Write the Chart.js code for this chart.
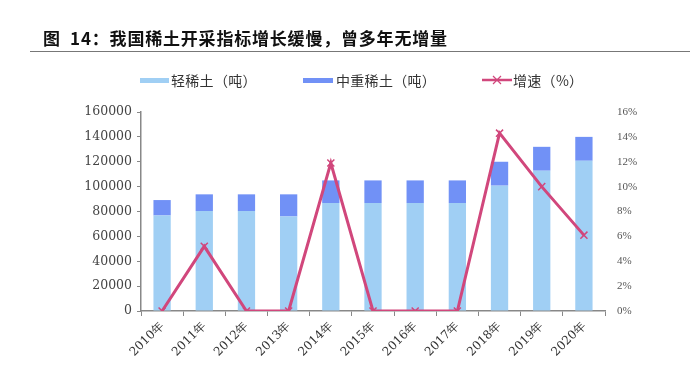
<!DOCTYPE html>
<html>
<head>
<meta charset="utf-8">
<script src="https://cdn.jsdelivr.net/npm/chart.js@4"></script>
<style>
  body { margin: 0; background: #fff; }
  #wrap { position: relative; width: 690px; height: 372px; overflow: hidden; }
  #title {
    position: absolute; left: 43px; top: 27px;
    font: bold 17px "Noto Sans CJK SC", sans-serif; color: #111; white-space: nowrap;
    line-height: 22px; letter-spacing: 0.8px;
  }
  #rule { position: absolute; left: 30px; right: 0; top: 51px; height: 0; border-top: 1.5px solid #777; }
  .leg { position: absolute; top: 70px; font: 14px "Noto Sans CJK SC", sans-serif; color: #333; line-height: 20px; white-space: nowrap; letter-spacing: 0.3px; }
  .box { position: absolute; top: 78px; height: 5px; }
  canvas { position: absolute; left: 0; top: 0; }
</style>
</head>
<body>
<div id="wrap">
  <canvas id="chart" width="690" height="372"></canvas>
  <div id="title">图&nbsp; 14：我国稀土开采指标增长缓慢，曾多年无增量</div>
  <div id="rule"></div>
  <div class="box" style="left:140px;width:29px;background:#a0cff4"></div>
  <div class="leg" style="left:171px">轻稀土（吨）</div>
  <div class="box" style="left:303px;width:30px;background:#7191f6"></div>
  <div class="leg" style="left:336px">中重稀土（吨）</div>
  <div class="leg" style="left:513px">增速（%）</div>
  <canvas id="legline" width="32" height="14" style="left:481px;top:73px"></canvas>
</div>
<script>
const years = ["2010年", "2011年", "2012年", "2013年", "2014年", "2015年", "2016年", "2017年", "2018年", "2019年", "2020年"];
const lightRE = [76800, 80400, 80400, 76000, 86800, 86800, 86800, 86800, 100800, 112800, 120800];
const heavyRE = [12400, 13400, 13400, 17800, 18200, 18200, 18200, 18200, 19200, 19200, 19200];
const growth = [0, 5.2, 0, 0, 11.9, 0, 0, 0, 14.3, 10.0, 6.1];

const lineColor = "#d1477c";

// legend sample for the line series
(function () {
  const c = document.getElementById("legline").getContext("2d");
  c.strokeStyle = lineColor;
  c.lineWidth = 2.5;
  c.beginPath(); c.moveTo(1, 7); c.lineTo(31, 7); c.stroke();
  c.lineWidth = 1.2;
  c.beginPath(); c.moveTo(12, 3); c.lineTo(20, 11); c.moveTo(20, 3); c.lineTo(12, 11); c.stroke();
})();

new Chart(document.getElementById("chart"), {
  data: {
    labels: years,
    datasets: [
      {
        type: "line",
        label: "增速（%）",
        data: growth,
        yAxisID: "y1",
        borderColor: lineColor,
        borderWidth: 3,
        tension: 0,
        pointStyle: "crossRot",
        pointRadius: 5,
        pointBorderWidth: 1.5,
        pointBorderColor: lineColor,
        order: 0,
      },
      {
        type: "bar",
        label: "轻稀土（吨）",
        data: lightRE,
        backgroundColor: "#a0cff4",
        yAxisID: "y",
        barPercentage: 0.41,
        categoryPercentage: 1,
        order: 1,
      },
      {
        type: "bar",
        label: "中重稀土（吨）",
        data: heavyRE,
        backgroundColor: "#7191f6",
        yAxisID: "y",
        barPercentage: 0.41,
        categoryPercentage: 1,
        order: 2,
      },
    ],
  },
  options: {
    responsive: false,
    animation: false,
    layout: { padding: { top: 112, left: 0, right: 0, bottom: 0 } },
    plugins: { legend: { display: false }, tooltip: { enabled: false } },
    scales: {
      x: {
        stacked: true,
        offset: true,
        grid: { offset: true, drawOnChartArea: false, drawTicks: true, tickLength: 5, color: "#888" },
        border: { color: "#888", width: 1.5 },
        ticks: { color: "#333", font: { family: "DejaVu Serif", size: 12 }, minRotation: 45, maxRotation: 45, padding: 3 },
        afterFit: (s) => { s.height = 61; },
      },
      y: {
        stacked: true,
        position: "left",
        min: 0,
        max: 160000,
        grid: { drawOnChartArea: false, drawTicks: true, tickLength: 4, color: "#888" },
        border: { color: "#888", width: 1.5 },
        ticks: { stepSize: 20000, color: "#444", font: { family: "DejaVu Serif", size: 12.5 }, padding: 5, callback: (v) => String(v) },
        afterFit: (s) => { s.width = 141; },
      },
      y1: {
        position: "right",
        min: 0,
        max: 16,
        grid: { display: false, drawTicks: false },
        border: { display: false },
        ticks: { stepSize: 2, color: "#555", font: { family: "Liberation Serif", size: 11 }, padding: 12, callback: (v) => v + "%" },
        afterFit: (s) => { s.width = 85; },
      },
    },
  },
});
</script>
</body>
</html>
